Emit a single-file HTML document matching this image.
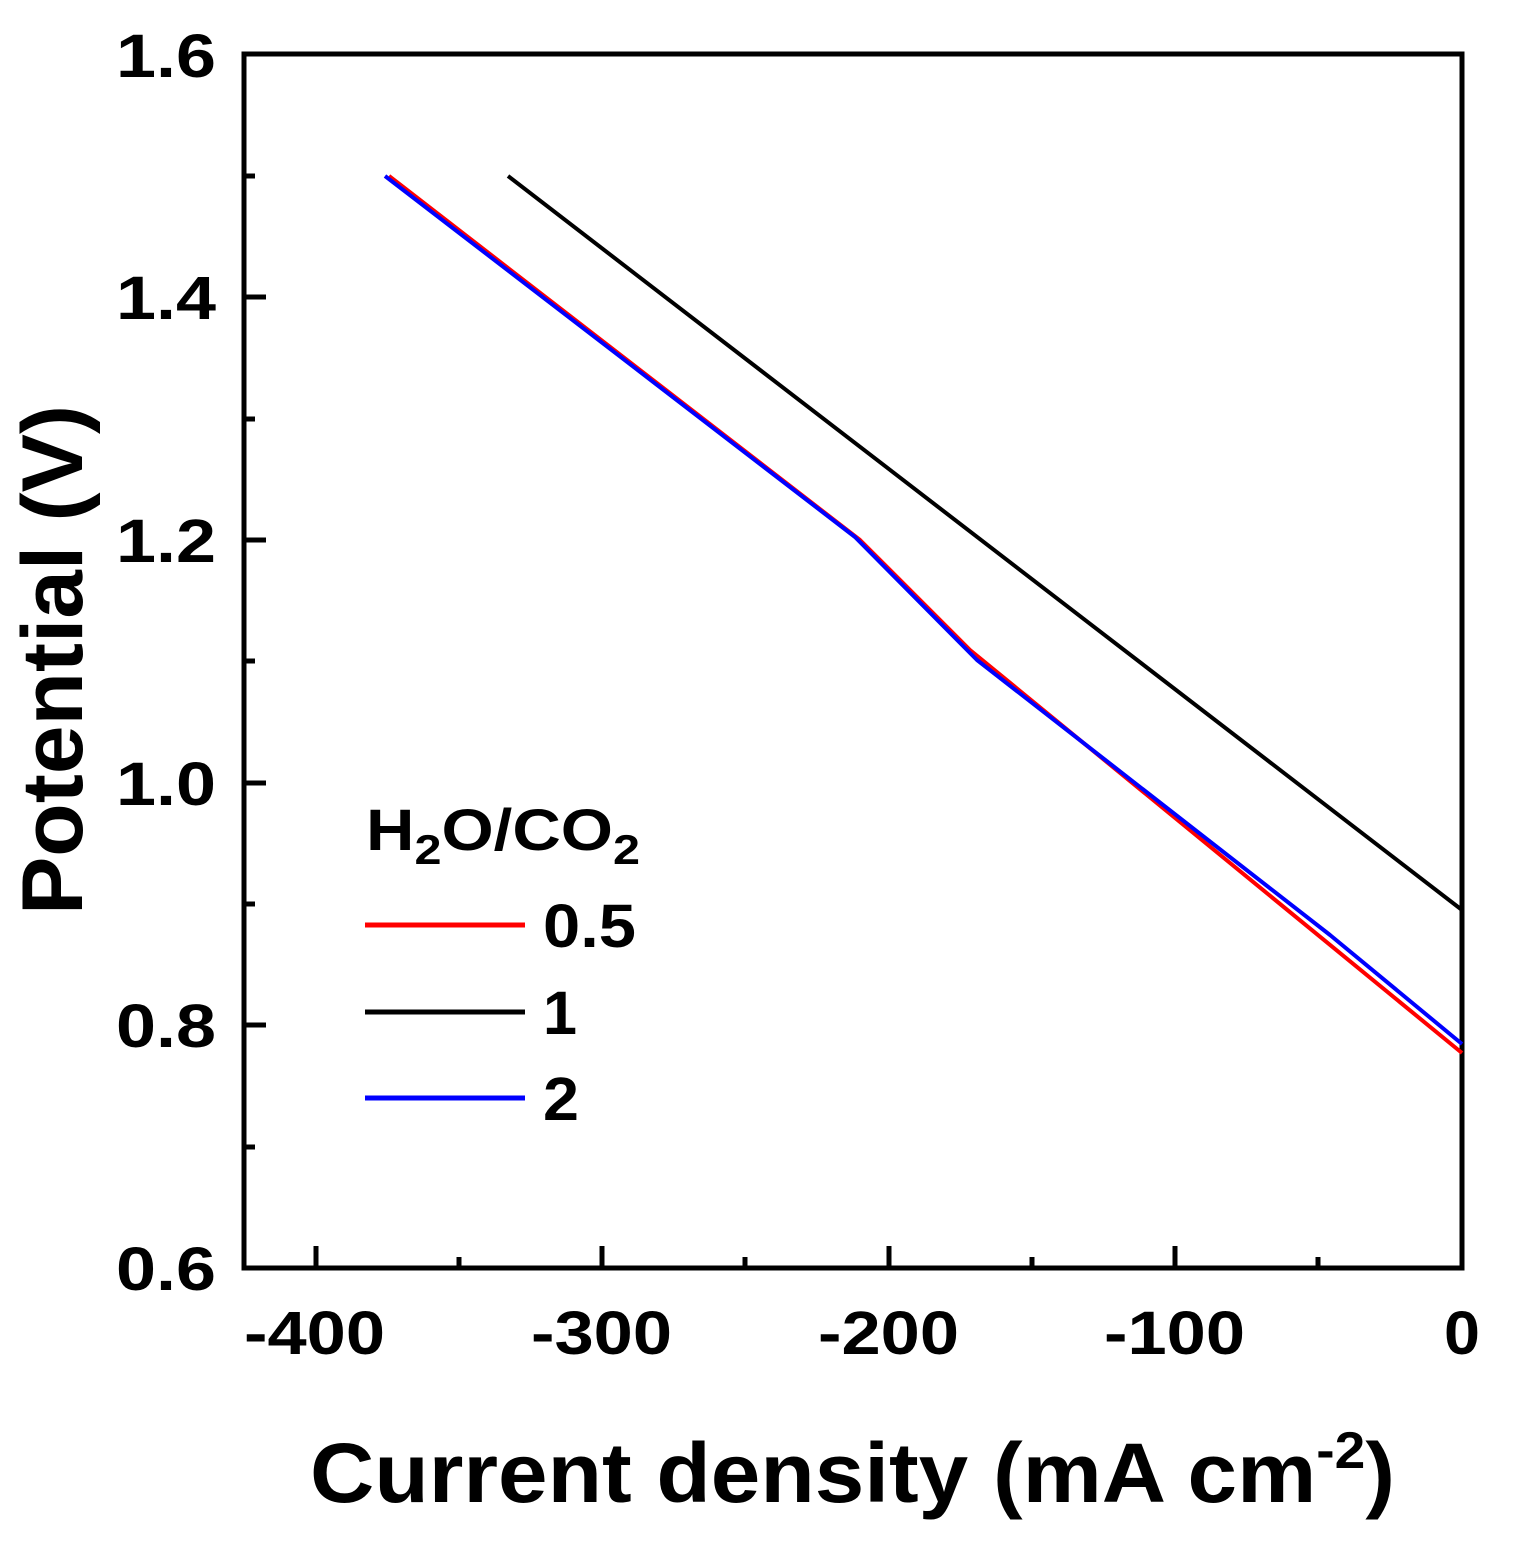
<!DOCTYPE html>
<html><head><style>body{margin:0;background:#fff}</style></head><body>
<svg width="1514" height="1546" xmlns="http://www.w3.org/2000/svg" font-family="Liberation Sans, Arial, sans-serif" font-weight="bold">
<rect width="1514" height="1546" fill="#fff"/>
<g stroke="#000" stroke-width="5">
<rect x="244" y="54" width="1218" height="1214" fill="none"/>
<path d="M316 1268v-22M602 1268v-22M889 1268v-22M1175 1268v-22M459 1268v-11M745 1268v-11M1032 1268v-11M1318 1268v-11"/>
<path d="M244 1025h22M244 783h22M244 540h22M244 297h22M244 1147h11M244 904h11M244 661h11M244 419h11M244 176h11"/>
</g>
<g font-size="61" text-anchor="end">
<text x="216" y="1290" textLength="100" lengthAdjust="spacingAndGlyphs">0.6</text>
<text x="216" y="1047" textLength="100" lengthAdjust="spacingAndGlyphs">0.8</text>
<text x="216" y="805" textLength="100" lengthAdjust="spacingAndGlyphs">1.0</text>
<text x="216" y="562" textLength="100" lengthAdjust="spacingAndGlyphs">1.2</text>
<text x="216" y="319" textLength="100" lengthAdjust="spacingAndGlyphs">1.4</text>
<text x="216" y="77" textLength="100" lengthAdjust="spacingAndGlyphs">1.6</text>
</g>
<g font-size="61">
<text x="244" y="1354" textLength="141" lengthAdjust="spacingAndGlyphs">-400</text>
<text x="531" y="1354" textLength="141" lengthAdjust="spacingAndGlyphs">-300</text>
<text x="818" y="1354" textLength="141" lengthAdjust="spacingAndGlyphs">-200</text>
<text x="1104" y="1354" textLength="141" lengthAdjust="spacingAndGlyphs">-100</text>
<text x="1444" y="1354" textLength="36" lengthAdjust="spacingAndGlyphs">0</text>
</g>
<text x="310" y="1502" font-size="84" textLength="1085" lengthAdjust="spacingAndGlyphs">Current density (mA cm<tspan dy="-34" font-size="52">-2</tspan><tspan dy="34">)</tspan></text>
<text transform="translate(82,915) rotate(-90)" font-size="86" textLength="510" lengthAdjust="spacingAndGlyphs">Potential (V)</text>
<g fill="none" stroke-width="4" stroke-linejoin="round">
<polyline stroke="#000" points="508,176 1462,910"/>
<polyline stroke="#f00" points="389,176 860,540 970,650 1462,1053"/>
<polyline stroke="#00f" points="385,176 855,537 977,660 1330,935 1462,1044"/>
</g>
<text x="366" y="850" font-size="58" textLength="274" lengthAdjust="spacingAndGlyphs">H<tspan dy="14" font-size="42">2</tspan><tspan dy="-14">O/CO</tspan><tspan dy="14" font-size="42">2</tspan></text>
<g stroke-width="5">
<line x1="365" y1="925" x2="525" y2="925" stroke="#f00"/>
<line x1="365" y1="1012" x2="525" y2="1012" stroke="#000"/>
<line x1="365" y1="1098" x2="525" y2="1098" stroke="#00f"/>
</g>
<g font-size="61">
<text x="543" y="947" textLength="93" lengthAdjust="spacingAndGlyphs">0.5</text>
<text x="543" y="1034" textLength="34" lengthAdjust="spacingAndGlyphs">1</text>
<text x="543" y="1120" textLength="36" lengthAdjust="spacingAndGlyphs">2</text>
</g>
</svg>
</body></html>
